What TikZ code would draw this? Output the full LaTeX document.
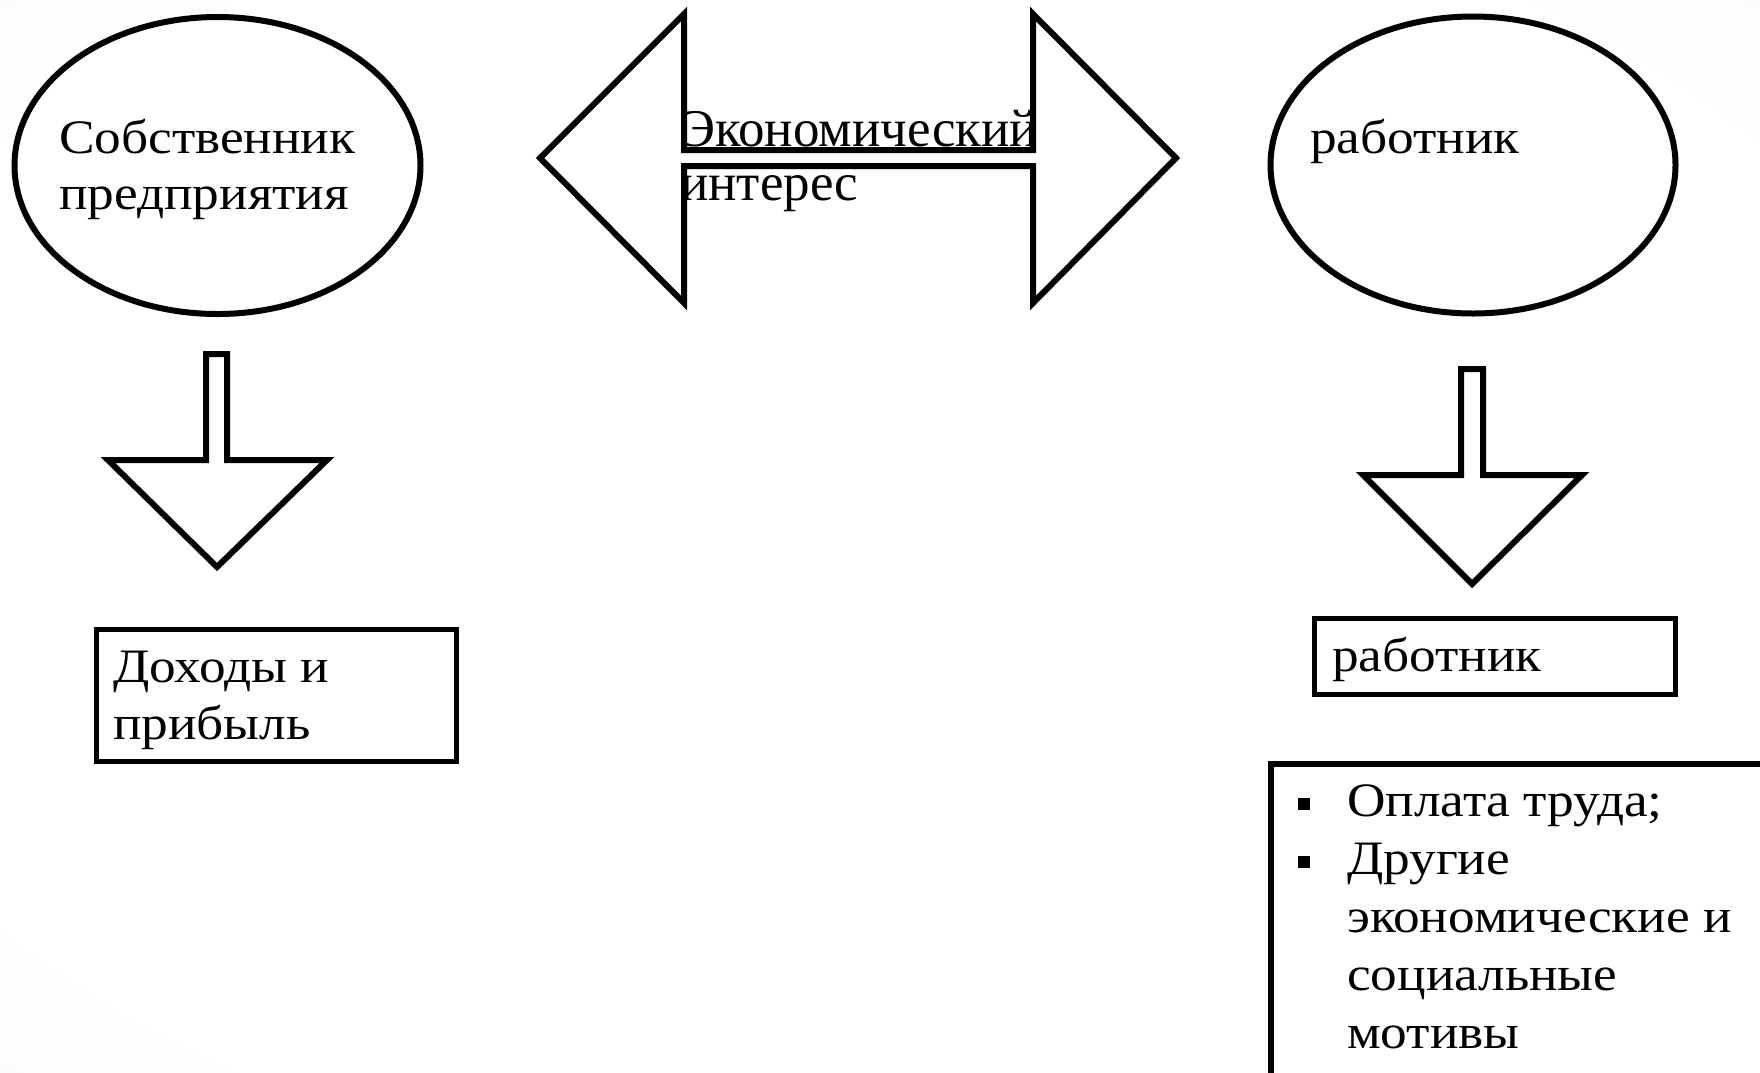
\documentclass[tikz,border=0pt]{standalone}
\usepackage{fontspec}
\setmainfont[FakeStretch=1.11]{Liberation Serif}
\newfontfamily\econfont{Liberation Serif}
\usetikzlibrary{shapes.geometric}
\pgfdeclareradialshading{bgshade}{\pgfpoint{0bp}{0bp}}{color(0bp)=(white); color(30bp)=(white); color(50bp)=(black!4); color(71bp)=(black!10)}
\begin{document}
\begin{tikzpicture}[x=1pt,y=-1pt,
  shp/.style={draw=black,line width=6pt,fill=white,line join=miter,miter limit=10},
  boxs/.style={draw=black,line width=5.5pt,fill=white,rectangle,inner sep=0pt},
  lbl/.style={anchor=base west,inner sep=0pt,font=\fontsize{48}{56}\selectfont},
  elab/.style={anchor=base west,inner sep=0pt,font=\econfont\fontsize{53}{56}\selectfont},
  blt/.style={fill=black,rectangle,minimum size=12pt,inner sep=0pt}]
\useasboundingbox (0,0) rectangle (1760,1072);
\shade[shading=bgshade] (0,0) rectangle (1760,1072);

% ellipses
\node[shp,ellipse,minimum width=406pt,minimum height=297pt] (own) at (217.5,165.5) {};
\node[shp,ellipse,minimum width=405pt,minimum height=297pt] (wrk) at (1473,165) {};
\node[lbl] (own1) at (59,153) {Собственник};
\node[lbl] (own2) at (59,209) {предприятия};
\node[lbl] (wrk1) at (1310,153) {работник};

% double arrow
\draw[shp] (540,158) -- (684,14) -- (684,150) -- (1033,150) -- (1033,14) -- (1176,158)
  -- (1033,303) -- (1033,166) -- (684,166) -- (684,303) -- cycle;
\node[elab] (eco1) at (680,146) {Экономический};
\node[elab] (eco2) at (680,200) {интерес};

% down arrows
\draw[shp] (206,354) -- (227,354) -- (227,460) -- (327,460) -- (217,567) -- (108,460) -- (206,460) -- cycle;
\draw[shp] (1461,369) -- (1483,369) -- (1483,475) -- (1582,475) -- (1472,584) -- (1363,475) -- (1461,475) -- cycle;

% boxes
\node[boxs,minimum width=360pt,minimum height=132pt] (inc) at (276.5,695.5) {};
\node[lbl] (inc1) at (113,682) {Доходы и};
\node[lbl] (inc2) at (113,739) {прибыль};

\node[boxs,minimum width=361pt,minimum height=76pt] (wbox) at (1495,656.5) {};
\node[lbl] (wbox1) at (1332,671) {работник};

\node[boxs,minimum width=540pt,minimum height=360pt,anchor=north west] (mot) at (1268,761) {};
\node[blt] (b1) at (1304,804) {};
\node[blt] (b2) at (1304,862) {};
\node[lbl] (m1) at (1347,816) {Оплата труда;};
\node[lbl] (m2) at (1347,874) {Другие};
\node[lbl] (m3) at (1347,932) {экономические и};
\node[lbl] (m4) at (1347,990) {социальные};
\node[lbl] (m5) at (1347,1048) {мотивы};
\end{tikzpicture}
\end{document}
